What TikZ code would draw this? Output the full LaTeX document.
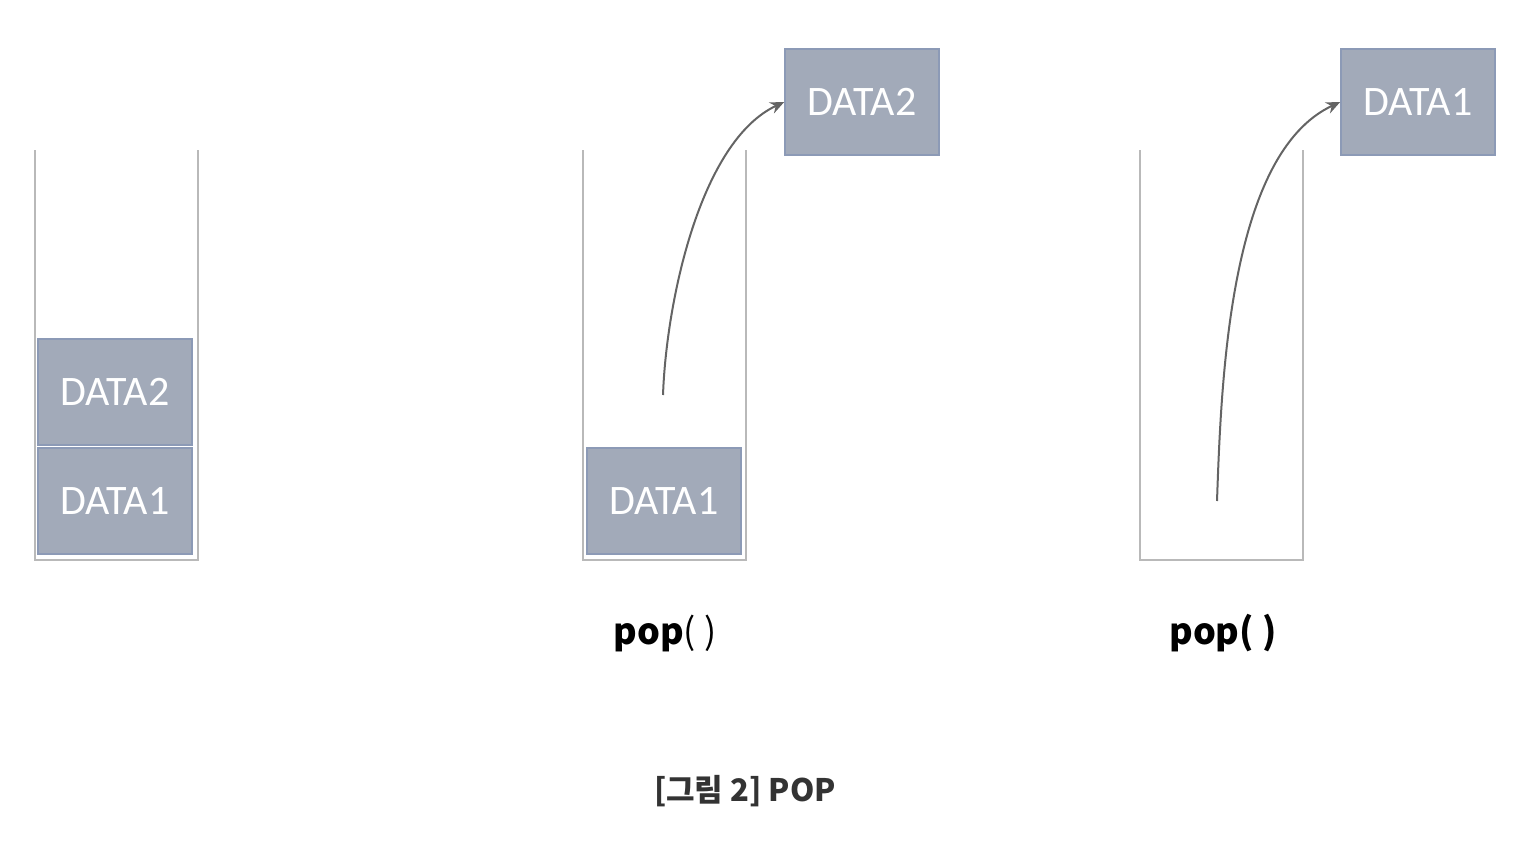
\documentclass[tikz,border=0pt]{standalone}
\usepackage{fontspec}
\setmainfont{Carlito}
\newfontfamily\krfont{Noto Sans CJK KR}
\usetikzlibrary{positioning, arrows.meta}
\definecolor{boxFill}{RGB}{162, 170, 185}
\definecolor{boxEdge}{RGB}{140, 154, 182}
\definecolor{wallGray}{RGB}{185, 185, 185}
\definecolor{arrowGray}{RGB}{100, 100, 100}
\definecolor{captionText}{RGB}{51, 51, 51}
\tikzset{
  databox/.style={
    draw=boxEdge,
    line width=0.8pt,
    fill=boxFill,
    minimum width=77pt,
    minimum height=53pt,
    inner sep=0pt,
    font=\fontsize{21}{24}\selectfont\color{white}
  },
  stackwall/.style={
    draw=wallGray,
    line width=1.4pt
  },
  popedge/.style={
    -{Stealth[length=7pt,width=6pt]},
    line width=1pt,
    draw=arrowGray
  },
  poplabel/.style={
    font=\krfont\fontsize{18}{20}\selectfont
  }
}

\begin{document}
\begin{tikzpicture}[x=0.5pt, y=-0.5pt]
      \useasboundingbox (0,0) rectangle (1540,846);

      % Stack 1
      \draw[stackwall] (35,150) |- (198,560) -- (198,150);
      \node[databox] (a1) at (115,501) {DATA1};
      \node[databox, above=0.8pt of a1] (a2) {DATA2};

      % Stack 2
      \draw[stackwall] (583,150) |- (746,560) -- (746,150);
      \node[databox] (b1) at (664,501) {DATA1};
      \node[databox] (b2) at (862,102) {DATA2};
      \coordinate (bstart) at (663,395);
      \draw[popedge] (bstart) to[out=88, in=205, looseness=0.75] (b2.west);
      \node[poplabel] (bpop) at (665,633) {\bfseries pop\mdseries( )};

      % Stack 3
      \draw[stackwall] (1140,150) |- (1303,560) -- (1303,150);
      \node[databox] (c1) at (1418,102) {DATA1};
      \coordinate (cstart) at (1217,501);
      \draw[popedge] (cstart) to[out=88, in=205, looseness=0.75] (c1.west);
      \node[poplabel] (cpop) at (1223,633) {\bfseries pop( )};

      % Caption
      \node[font=\krfont\fontsize{15.5}{18}\selectfont\bfseries, text=captionText] (caption) at (745,791) {[그림 2] POP};
    \end{tikzpicture}
\end{document}
